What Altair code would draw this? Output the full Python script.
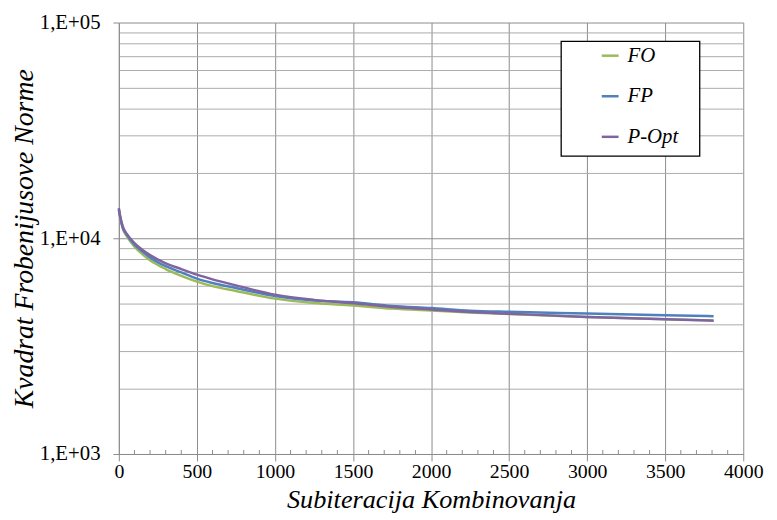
import altair as alt
import pandas as pd

# ---- data ----
x_vals = [0, 10, 25, 50, 100, 150, 200, 300, 400, 500, 600, 750, 1000, 1250, 1500, 1750, 2000, 2250, 2500, 3000, 3500, 3810]
fo_vals = [13600, 12300, 11100, 10250, 9150, 8450, 7900, 7200, 6700, 6300, 6000, 5700, 5250, 5010, 4880, 4720, 4620, 4530, 4450, 4320, 4215, 4160]
fp_vals = [13600, 12400, 11200, 10400, 9350, 8700, 8150, 7420, 6950, 6500, 6200, 5880, 5400, 5150, 5050, 4860, 4750, 4620, 4560, 4480, 4400, 4355]
popt_vals = [13800, 12500, 11350, 10500, 9500, 8850, 8350, 7650, 7200, 6780, 6450, 6050, 5480, 5180, 5000, 4800, 4680, 4550, 4470, 4320, 4210, 4150]

series_names = ["FO", "FP", "P-Opt"]
series_colors = ["#9BBB59", "#4F81BD", "#8064A2"]

x_ticks = [0, 500, 1000, 1500, 2000, 2500, 3000, 3500, 4000]
x_minor = [100, 200, 300, 400, 600, 700, 800, 900, 1100, 1200, 1300, 1400,
           1600, 1700, 1800, 1900, 2100, 2200, 2300, 2400, 2600, 2700, 2800, 2900,
           3100, 3200, 3300, 3400, 3600, 3700, 3800, 3900]
y_grid = [1000, 2000, 3000, 4000, 5000, 6000, 7000, 8000, 9000,
          10000, 20000, 30000, 40000, 50000, 60000, 70000, 80000, 90000, 100000]
y_major = [1000, 10000, 100000]
y_tick_labels = ["1,E+03", "1,E+04", "1,E+05"]

x_title = "Subiteracija Kombinovanja"
y_title = "Kvadrat Frobenijusove Norme"

# ---- build table ----
rows = []
for name, vals in zip(series_names, [fo_vals, fp_vals, popt_vals]):
    for xv, yv in zip(x_vals, vals):
        rows.append({"x": xv, "v": yv, "s": name})
df = pd.DataFrame(rows)

FONT = "Liberation Serif"
W, H = 631, 436

label_expr = " : ".join(f"datum.value == {v} ? '{t}'" for v, t in zip(y_major, y_tick_labels)) + " : ''"
major_test = " || ".join(f"datum.value == {v}" for v in y_major)

x_scale = alt.Scale(domain=[0, 4000], nice=False, zero=False)
y_scale = alt.Scale(type="log", domain=[1000, 100000], nice=False)

x_axis = alt.Axis(values=x_ticks, format="d", title=x_title,
                  grid=True, gridColor="#8c8c8c", gridWidth=1,
                  tickSize=7, tickColor="#8c8c8c", domainColor="#8c8c8c",
                  labelFont=FONT, labelFontSize=20, labelPadding=1, labelColor="black",
                  labelFlush=False,
                  titleFont=FONT, titleFontSize=26.5, titleFontStyle="italic",
                  titleFontWeight="normal", titleColor="black",
                  titleBaseline="alphabetic", titleY=54)

lines = alt.Chart(df).mark_line(strokeWidth=2.5, interpolate="monotone").encode(
    x=alt.X("x:Q", scale=x_scale, axis=x_axis),
    y=alt.Y("v:Q", scale=y_scale,
            axis=alt.Axis(values=y_grid, labelExpr=label_expr, title=y_title,
                          grid=True,
                          gridColor={"condition": {"test": major_test, "value": "#8c8c8c"}, "value": "#ababab"},
                          gridWidth=1,
                          tickSize=6, tickColor="#8c8c8c",
                          tickOpacity={"condition": {"test": major_test, "value": 1}, "value": 0},
                          domainColor="#8c8c8c",
                          labelFont=FONT, labelFontSize=21, labelPadding=13, labelColor="black",
                          labelFlush=False,
                          titleFont=FONT, titleFontSize=28, titleFontStyle="italic",
                          titleFontWeight="normal", titleColor="black",
                          titleAngle=270, titleBaseline="alphabetic", titleX=-87)),
    color=alt.Color("s:N", scale=alt.Scale(domain=series_names, range=series_colors),
                    legend=alt.Legend(title=None, orient="none", legendX=486, legendY=23,
                                      symbolType="stroke", symbolSize=289, symbolStrokeWidth=2.5,
                                      labelFont=FONT, labelFontStyle="italic", labelFontSize=21,
                                      labelColor="black", labelOffset=7, rowPadding=19,
                                      padding=0, symbolOffset=0)),
)

minor = alt.Chart(pd.DataFrame({"x": x_minor})).mark_rule(color="#8c8c8c", strokeWidth=1).encode(
    x=alt.X("x:Q", scale=x_scale, axis=x_axis),
    y=alt.value(H - 4),
    y2=alt.value(H),
)

frame = alt.Chart(pd.DataFrame({"k": [0]})).mark_rect(fill="white", stroke="black", strokeWidth=1.3).encode(
    x=alt.value(447), x2=alt.value(587), y=alt.value(19), y2=alt.value(135),
)

chart = alt.layer(lines, minor, frame).properties(
    width=W, height=H,
    autosize=alt.AutoSizeParams(type="none"),
    padding={"left": 112, "top": 12, "right": 26, "bottom": 63},
    background="white",
).configure_view(strokeWidth=0)

chart.save("out.html", embed_options={"renderer": "svg", "actions": False})
